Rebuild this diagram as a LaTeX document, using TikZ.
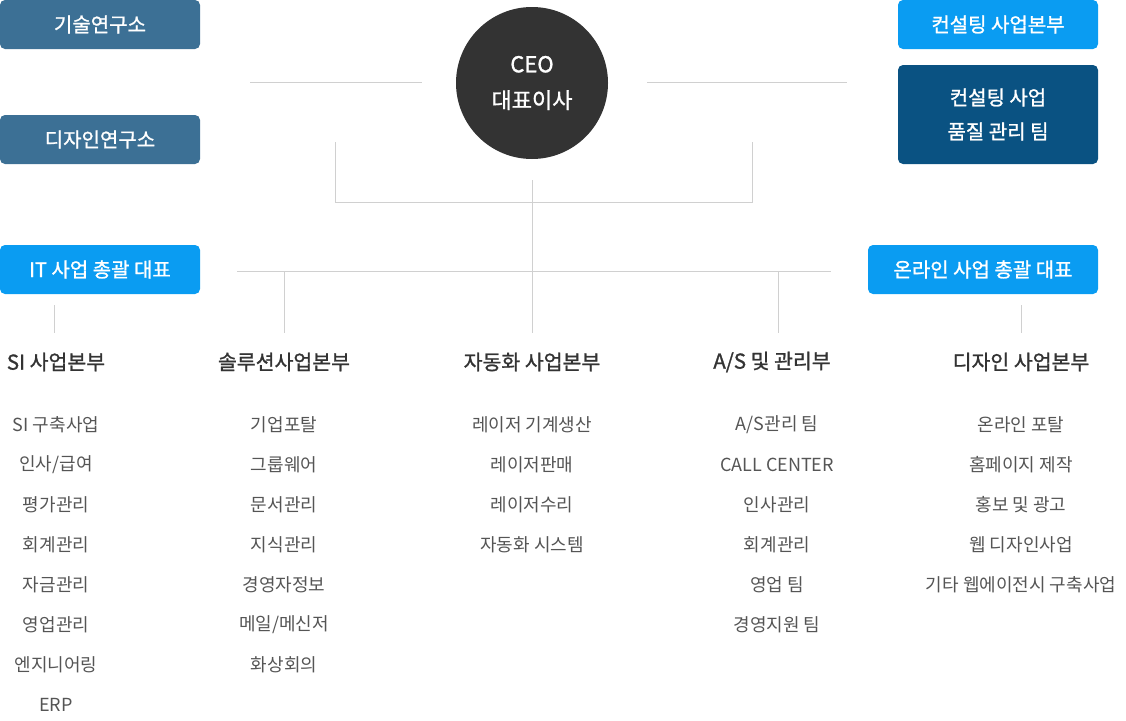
\documentclass[tikz,border=0pt]{standalone}
\usepackage{fontspec}
\setmainfont{Noto Sans CJK KR}
\newfontfamily\medf{Noto Sans CJK KR}[FakeBold=1.2]
\begin{document}
\begin{tikzpicture}[x=1pt,y=-1pt,
  box/.style={rounded corners=5pt,minimum height=49pt,text=white,font=\medf\fontsize{20}{30}\selectfont,inner sep=0pt},
  steel/.style={box,fill=steel},
  bright/.style={box,fill=bright},
  ln/.style={draw=linec,line width=1pt},
  hd/.style={font=\medf\fontsize{20.5}{24}\selectfont,text=hdc},
  it/.style={font=\fontsize{18}{22}\selectfont,text=itc}]
\definecolor{steel}{HTML}{3C7095}
\definecolor{bright}{HTML}{0A9CF2}
\definecolor{navy}{HTML}{0A5282}
\definecolor{linec}{HTML}{D0D0D0}
\definecolor{hdc}{HTML}{333333}
\definecolor{itc}{HTML}{555555}
\useasboundingbox (0,0) rectangle (1126,720);
\node[steel,minimum width=200pt] (k1) at (100,24.5) {기술연구소};
\node[steel,minimum width=200pt] (k2) at (100,139.5) {디자인연구소};
\node[bright,minimum width=200pt] (it) at (100,269.5) {IT 사업 총괄 대표};
\node[bright,minimum width=200pt] (c1) at (998,24.5) {컨설팅 사업본부};
\node[box,fill=navy,minimum width=200pt,minimum height=99pt,align=center,font=\medf\fontsize{20}{34}\selectfont] (c2) at (998,114.5) {컨설팅 사업\\품질 관리 팀};
\node[bright,minimum width=230pt] (on) at (983,269.5) {온라인 사업 총괄 대표};
\node[circle,fill=hdc,minimum size=152pt,text=white,align=center,font=\medf\fontsize{22}{36}\selectfont] (ceo) at (532,83) {CEO\\대표이사};
\coordinate (a1) at (250,82); \coordinate (a2) at (422,82);
\coordinate (b1) at (647,82); \coordinate (b2) at (847,82);
\draw[ln] (a1)--(a2); \draw[ln] (b1)--(b2);
\coordinate (l1) at (335,142); \coordinate (l2) at (335,202);
\coordinate (r1) at (752,142); \coordinate (r2) at (752,202);
\draw[ln] (l1)--(l2)--(r2)--(r1);
\coordinate (m1) at (532,180); \coordinate (m2) at (532,333);
\draw[ln] (m1)--(m2);
\coordinate (h1) at (237,271); \coordinate (h2) at (831,271);
\draw[ln] (h1)--(h2);
\coordinate (v1) at (284,271); \coordinate (v1b) at (284,333);
\coordinate (v2) at (778,271); \coordinate (v2b) at (778,333);
\coordinate (v3) at (54,305); \coordinate (v3b) at (54,333);
\coordinate (v4) at (1021,305); \coordinate (v4b) at (1021,333);
\draw[ln] (v1)--(v1b); \draw[ln] (v2)--(v2b); \draw[ln] (v3)--(v3b); \draw[ln] (v4)--(v4b);
\node[hd] (h_si) at (56,362) {SI 사업본부};
\node[hd] (h_so) at (284,362) {솔루션사업본부};
\node[hd] (h_au) at (532,362) {자동화 사업본부};
\node[hd] (h_as) at (772,362) {A/S 및 관리부};
\node[hd] (h_de) at (1021,362) {디자인 사업본부};
\foreach \t [count=\i] in {SI 구축사업,인사/급여,평가관리,회계관리,자금관리,영업관리,엔지니어링,ERP}
  \node[it] (si\i) at (56,385+40*\i) {\t};
\foreach \t [count=\i] in {기업포탈,그룹웨어,문서관리,지식관리,경영자정보,메일/메신저,화상회의}
  \node[it] (so\i) at (284,385+40*\i) {\t};
\foreach \t [count=\i] in {레이저 기계생산,레이저판매,레이저수리,자동화 시스템}
  \node[it] (au\i) at (532,385+40*\i) {\t};
\foreach \t [count=\i] in {A/S관리 팀,CALL CENTER,인사관리,회계관리,영업 팀,경영지원 팀}
  \node[it] (as\i) at (777,385+40*\i) {\t};
\foreach \t [count=\i] in {온라인 포탈,홈페이지 제작,홍보 및 광고,웹 디자인사업,기타 웹에이전시 구축사업}
  \node[it] (de\i) at (1021,385+40*\i) {\t};
\end{tikzpicture}
\end{document}
